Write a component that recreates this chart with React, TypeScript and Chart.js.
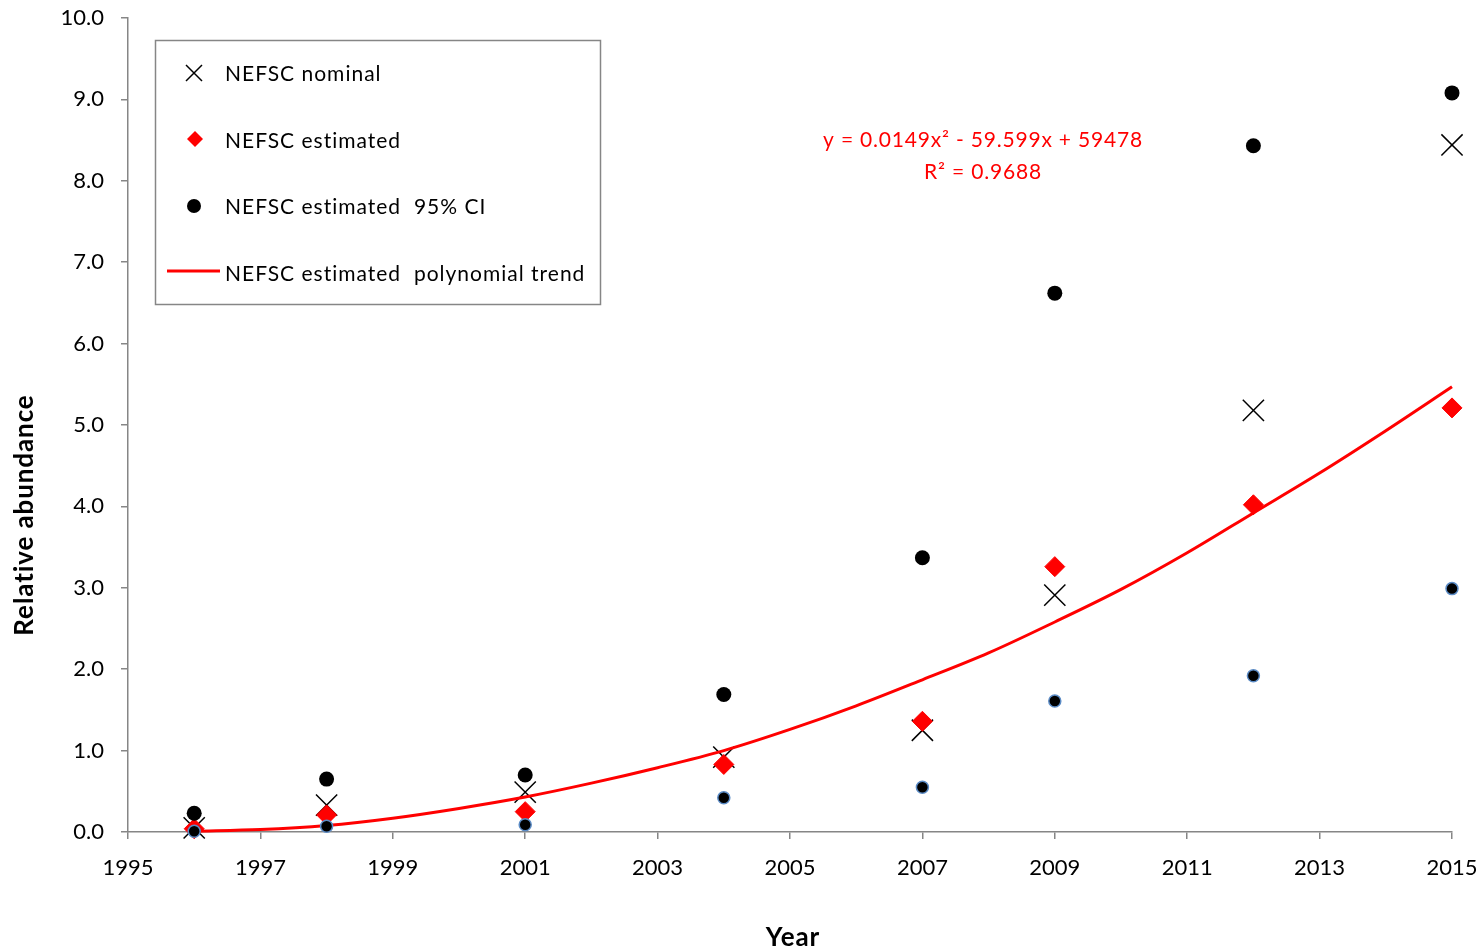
import React, { useEffect, useRef } from "react";
import { Chart, registerables } from "chart.js";

Chart.register(...registerables);

const years = [1996, 1998, 2001, 2004, 2007, 2009, 2012, 2015];
const nominal = [0.05, 0.33, 0.49, 0.92, 1.25, 2.91, 5.18, 8.44];
const estimated = [0.04, 0.21, 0.25, 0.83, 1.36, 3.26, 4.02, 5.21];
const upperCI = [0.23, 0.65, 0.7, 1.69, 3.37, 6.62, 8.43, 9.08];
const lowerCI = [0.01, 0.07, 0.09, 0.42, 0.55, 1.61, 1.92, 2.99];

const trendYears = [1996, 1997, 1998, 1999, 2000, 2001, 2002, 2003, 2004, 2005, 2006, 2007, 2008, 2009, 2010, 2011, 2012, 2013, 2014, 2015];
const trendValues = [0.01, 0.03, 0.08, 0.17, 0.29, 0.43, 0.6, 0.79, 1.0, 1.26, 1.55, 1.87, 2.2, 2.58, 2.98, 3.43, 3.92, 4.41, 4.93, 5.47];

const legendLabels = ["NEFSC nominal", "NEFSC estimated", "NEFSC estimated  95% CI", "NEFSC estimated  polynomial trend"];
const equationLines = ["y = 0.0149x\u00B2 - 59.599x + 59478", "R\u00B2 = 0.9688"];
const xTitle = "Year";
const yTitle = "Relative abundance";

const FONT = "Lato, 'Open Sans', sans-serif";
const AXIS_GRAY = "#868686";

const zip = (xs: number[], ys: number[]) => xs.map((x, i) => ({ x, y: ys[i] }));

const overlayPlugin = {
  id: "overlay",
  afterDraw(chart: any) {
    const ctx = chart.ctx as any;
    ctx.save();
    // legend box
    ctx.strokeStyle = AXIS_GRAY;
    ctx.lineWidth = 1.5;
    ctx.strokeRect(155.5, 40.5, 445, 264);
    ctx.font = `21px ${FONT}`;
    ctx.letterSpacing = "1px";
    ctx.fillStyle = "#000";
    ctx.textAlign = "left";
    ctx.textBaseline = "middle";
    const rows = [73, 140, 206, 273];
    rows.forEach((y, i) => ctx.fillText(legendLabels[i], 225, y + 1));
    // X marker
    ctx.strokeStyle = "#000";
    ctx.lineWidth = 1.5;
    ctx.beginPath();
    ctx.moveTo(186, 65); ctx.lineTo(202, 81);
    ctx.moveTo(202, 65); ctx.lineTo(186, 81);
    ctx.stroke();
    // diamond
    ctx.fillStyle = "#ff0000";
    ctx.beginPath();
    ctx.moveTo(195, 131); ctx.lineTo(203, 139); ctx.lineTo(195, 147); ctx.lineTo(187, 139);
    ctx.closePath();
    ctx.fill();
    // dot
    ctx.fillStyle = "#000";
    ctx.beginPath();
    ctx.arc(194, 206, 7, 0, Math.PI * 2);
    ctx.fill();
    // line
    ctx.strokeStyle = "#ff0000";
    ctx.lineWidth = 3;
    ctx.beginPath();
    ctx.moveTo(167, 271); ctx.lineTo(220, 271);
    ctx.stroke();
    // equation
    ctx.fillStyle = "#ff0000";
    ctx.font = `21px ${FONT}`;
    ctx.letterSpacing = "0.8px";
    ctx.textAlign = "center";
    ctx.fillText(equationLines[0], 983, 140);
    ctx.fillText(equationLines[1], 983, 172);
    // axis titles
    ctx.fillStyle = "#000";
    ctx.font = `bold 26px ${FONT}`;
    ctx.letterSpacing = "0.9px";
    ctx.textAlign = "center";
    ctx.fillText(xTitle, 793, 938);
    ctx.save();
    ctx.translate(25, 515);
    ctx.rotate(-Math.PI / 2);
    ctx.fillText(yTitle, 0, 0);
    ctx.restore();
    ctx.restore();
  },
};

export default function App() {
  const ref = useRef<HTMLCanvasElement | null>(null);
  useEffect(() => {
    if (!ref.current) return;
    const chart = new Chart(ref.current, {
      type: "scatter",
      data: {
        datasets: [
          {
            label: "NEFSC estimated  95% CI lower",
            data: zip(years, lowerCI),
            pointStyle: "circle",
            pointRadius: 6,
            pointBackgroundColor: "#000",
            pointBorderColor: "#5b8bc5",
            pointBorderWidth: 1.5,
            clip: false,
            order: 0,
          },
          {
            label: "NEFSC estimated  95% CI upper",
            data: zip(years, upperCI),
            pointStyle: "circle",
            pointRadius: 7.5,
            pointBackgroundColor: "#000",
            pointBorderColor: "#000",
            pointBorderWidth: 0,
            clip: false,
            order: 0,
          },
          {
            label: "NEFSC estimated",
            data: zip(years, estimated),
            pointStyle: "rectRot",
            pointRadius: 10,
            pointBackgroundColor: "#ff0000",
            pointBorderColor: "#ff0000",
            pointBorderWidth: 1,
            clip: false,
            order: 1,
          },
          {
            type: "line",
            label: "NEFSC estimated  polynomial trend",
            data: zip(trendYears, trendValues),
            borderColor: "#ff0000",
            borderWidth: 3,
            pointRadius: 0,
            fill: false,
            cubicInterpolationMode: "monotone",
            clip: false,
            order: 2,
          } as any,
          {
            label: "NEFSC nominal",
            data: zip(years, nominal),
            pointStyle: "crossRot",
            pointRadius: 15,
            pointBorderColor: "#000",
            pointBackgroundColor: "#000",
            pointBorderWidth: 1.5,
            clip: false,
            order: 3,
          },
        ],
      },
      options: {
        animation: false,
        responsive: false,
        layout: { padding: { top: 18, right: 29, left: 0, bottom: 0 } },
        plugins: { legend: { display: false }, tooltip: { enabled: false } },
        scales: {
          x: {
            type: "linear",
            min: 1995,
            max: 2015,
            afterFit: (s: any) => { s.height = 117; s.paddingLeft = 0; s.paddingRight = 0; s.paddingTop = 0; s.paddingBottom = 0; },
            ticks: { stepSize: 2, padding: 16, color: "#000", font: { family: FONT, size: 22 }, callback: (v: any) => String(v), maxRotation: 0 },
            grid: { display: true, drawOnChartArea: false, drawTicks: true, tickLength: 7, color: AXIS_GRAY, lineWidth: 1.5 },
            border: { display: true, color: AXIS_GRAY, width: 1.5 },
            title: { display: false },
          },
          y: {
            type: "linear",
            min: 0,
            max: 10,
            afterFit: (s: any) => { s.width = 128; s.paddingLeft = 0; s.paddingRight = 0; s.paddingTop = 0; s.paddingBottom = 0; },
            ticks: { stepSize: 1, padding: 17, color: "#000", font: { family: FONT, size: 22 }, callback: (v: any) => Number(v).toFixed(1) },
            grid: { display: true, drawOnChartArea: false, drawTicks: true, tickLength: 7, color: AXIS_GRAY, lineWidth: 1.5 },
            border: { display: true, color: AXIS_GRAY, width: 1.5 },
            title: { display: false },
          },
        },
      } as any,
      plugins: [overlayPlugin],
    });
    return () => chart.destroy();
  }, []);
  return (
    <div style={{ position: "absolute", left: 0, top: 0, width: 1481, height: 949, background: "#fff" }}>
      <canvas ref={ref} width={1481} height={949} style={{ width: 1481, height: 949, display: "block" }} />
    </div>
  );
}
